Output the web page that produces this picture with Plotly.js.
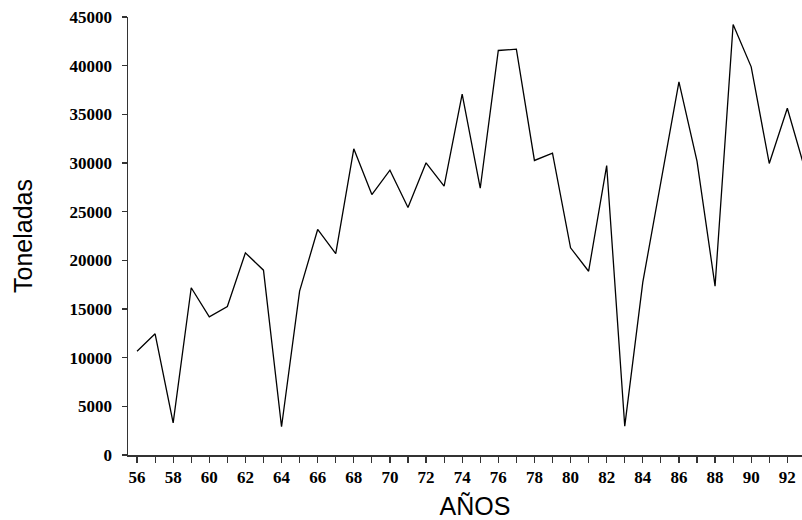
<!DOCTYPE html>
<html>
<head>
<meta charset="utf-8">
<script src="https://cdn.plot.ly/plotly-3.0.1.min.js"></script>
<style>
html, body { margin: 0; padding: 0; overflow: hidden; background: #fff; }
#chart { width: 822px; height: 520px; }
</style>
</head>
<body>
<div id="chart"></div>
<script>
// Years (two-digit, 1956-1993) and tonnes
const years = [56, 57, 58, 59, 60, 61, 62, 63, 64, 65, 66, 67, 68, 69, 70, 71, 72, 73, 74,
               75, 76, 77, 78, 79, 80, 81, 82, 83, 84, 85, 86, 87, 88, 89, 90, 91, 92, 93];
const toneladas = [10660, 12450, 3300, 17180, 14200, 15260, 20770, 18990, 2900, 16830,
                   23170, 20700, 31460, 26760, 29260, 25430, 30020, 27620, 37070, 27410,
                   41560, 41690, 30260, 31010, 21290, 18880, 29740, 2960, 17760, 27860,
                   38340, 30190, 17350, 44230, 39880, 29950, 35630, 29200];
const xTickVals = [56, 58, 60, 62, 64, 66, 68, 70, 72, 74, 76, 78, 80, 82, 84, 86, 88, 90, 92];
const xTickText = xTickVals.map(String);
const yTickVals = [0, 5000, 10000, 15000, 20000, 25000, 30000, 35000, 40000, 45000];
const yTickText = yTickVals.map(String);

const axisColor = '#333';
const tickFont = { family: '"Liberation Serif", "Times New Roman", serif', size: 17, color: '#000', weight: 'bold' };
const titleFont = { family: '"Liberation Sans", Arial, sans-serif', size: 25, color: '#000' };

const trace = {
  x: years,
  y: toneladas,
  type: 'scatter',
  mode: 'lines',
  line: { color: '#000', width: 1.3 },
  hoverinfo: 'x+y'
};

const layout = {
  width: 822,
  height: 520,
  margin: { l: 128, r: 0, t: 17, b: 65 },
  paper_bgcolor: '#fff',
  plot_bgcolor: '#fff',
  showlegend: false,
  xaxis: {
    range: [55.5, 93.92],
    tickmode: 'array',
    tickvals: xTickVals,
    ticktext: xTickText,
    ticks: 'outside',
    ticklen: 6,
    tickwidth: 1.2,
    tickcolor: axisColor,
    minor: { dtick: 1, tick0: 56, ticks: 'outside', ticklen: 6, tickwidth: 1.2, tickcolor: axisColor, showgrid: false },
    showline: true,
    linecolor: axisColor,
    linewidth: 1.5,
    showgrid: false,
    zeroline: false,
    tickfont: tickFont,
    ticklabelstandoff: 0,
    title: { text: 'AÑOS', font: titleFont, standoff: 13 }
  },
  yaxis: {
    range: [0, 45000],
    tickmode: 'array',
    tickvals: yTickVals,
    ticktext: yTickText,
    ticks: 'outside',
    ticklen: 5,
    tickwidth: 1.2,
    tickcolor: axisColor,
    showline: true,
    linecolor: axisColor,
    linewidth: 1.5,
    showgrid: false,
    zeroline: false,
    tickfont: tickFont,
    ticklabelstandoff: 6,
    title: { text: 'Toneladas', font: titleFont, standoff: 30 }
  }
};

Plotly.newPlot('chart', [trace], layout, { displayModeBar: false, staticPlot: true });
</script>
</body>
</html>
